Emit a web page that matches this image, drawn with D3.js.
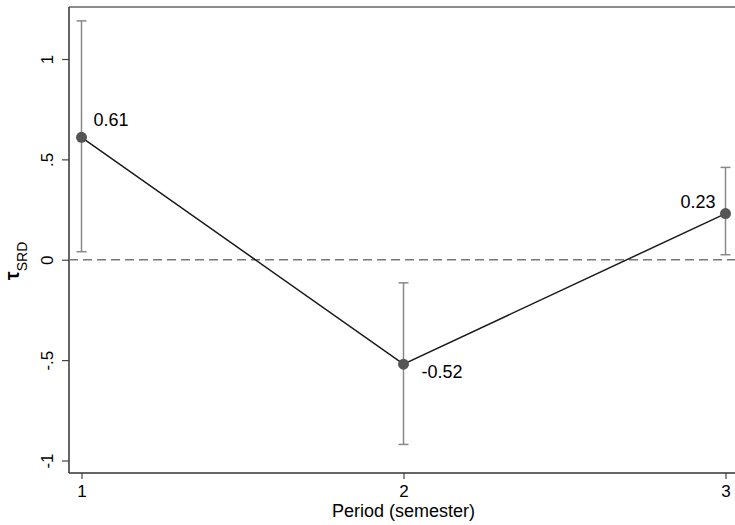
<!DOCTYPE html>
<html>
<head>
<meta charset="utf-8">
<script src="https://cdn.jsdelivr.net/npm/d3@7"></script>
<style>
  body { margin: 0; background: #fff; }
</style>
</head>
<body>
<div id="chart"></div>
<script>
// data
const periods = [1, 2, 3];
const estimates = [0.61, -0.52, 0.23];
const ciLower = [0.04, -0.92, 0.025];
const ciUpper = [1.19, -0.115, 0.46];
const pointLabels = ['0.61', '-0.52', '0.23'];
const yTicks = [-1, -0.5, 0, 0.5, 1];
const yTickLabels = ['-1', '-.5', '0', '.5', '1'];

// const
const width = 735;
const height = 525;
const plot = { left: 69, top: 7, right: 735, bottom: 473 };
const font = '"Liberation Sans", Arial, Helvetica, sans-serif';

// label offsets (Stata-like clock positions)
const labelPos = [
  { dx: 12, dy: -11, anchor: 'start' },
  { dx: 18, dy: 14, anchor: 'start' },
  { dx: -10, dy: -6, anchor: 'end' }
];

const data = periods.map((p, i) => ({
  period: p, est: estimates[i], lo: ciLower[i], hi: ciUpper[i], label: pointLabels[i]
}));

const svg = d3.select('#chart')
  .append('svg')
  .attr('width', width)
  .attr('height', height)
  .style('font-family', font);

const x = d3.scaleLinear().domain([1, 3]).range([81.5, 725.5]);
const y = d3.scaleLinear().domain([-1, 1]).range([460.5, 59]);

// frame top line
svg.append('line')
  .attr('x1', plot.left).attr('x2', plot.right)
  .attr('y1', plot.top).attr('y2', plot.top)
  .attr('stroke', '#666').attr('stroke-width', 1.5);

// y axis
const yAxis = svg.append('g')
  .attr('transform', `translate(${plot.left},0)`)
  .call(d3.axisLeft(y).tickValues(yTicks).tickSize(7).tickPadding(8)
    .tickFormat((d, i) => yTickLabels[i]))
  .call(g => g.select('.domain').remove());
yAxis.append('line')
  .attr('x1', 0).attr('x2', 0)
  .attr('y1', plot.top).attr('y2', plot.bottom)
  .attr('stroke', '#333').attr('stroke-width', 1.5);
yAxis.selectAll('.tick line').attr('stroke', '#444').attr('stroke-width', 1.2);
yAxis.selectAll('.tick text')
  .attr('x', null).attr('dy', null)
  .attr('transform', 'translate(-16,0) rotate(-90)')
  .attr('text-anchor', 'middle')
  .style('font-size', '17px')
  .attr('fill', '#000');

// x axis
const xAxis = svg.append('g')
  .attr('transform', `translate(0,${plot.bottom})`)
  .call(d3.axisBottom(x).tickValues(periods).tickSize(6).tickPadding(6)
    .tickFormat(d3.format('d')))
  .call(g => g.select('.domain').remove());
xAxis.append('line')
  .attr('x1', plot.left).attr('x2', plot.right)
  .attr('y1', 0).attr('y2', 0)
  .attr('stroke', '#333').attr('stroke-width', 1.5);
xAxis.selectAll('.tick line').attr('stroke', '#444').attr('stroke-width', 1.2);
xAxis.selectAll('.tick text')
  .style('font-size', '17px')
  .attr('fill', '#000');

// axis titles
svg.append('text')
  .attr('x', x(2))
  .attr('y', 517)
  .attr('text-anchor', 'middle')
  .style('font-size', '18px')
  .text('Period (semester)');

const yTitle = svg.append('text')
  .attr('transform', 'translate(19,261) rotate(-90)')
  .attr('text-anchor', 'middle');
yTitle.append('tspan').style('font-size', '20px').style('font-weight', 'bold').text('τ');
yTitle.append('tspan').style('font-size', '14px').attr('dy', 8).text('SRD');

// zero reference line
svg.append('line')
  .attr('x1', plot.left).attr('x2', plot.right)
  .attr('y1', y(0)).attr('y2', y(0))
  .attr('stroke', '#777').attr('stroke-width', 1.5)
  .attr('stroke-dasharray', '9,5');

// error bars
const bars = svg.append('g').attr('stroke', '#888').attr('stroke-width', 1.5);
bars.selectAll('line.ci')
  .data(data).join('line').attr('class', 'ci')
  .attr('x1', d => x(d.period)).attr('x2', d => x(d.period))
  .attr('y1', d => y(d.lo)).attr('y2', d => y(d.hi));
bars.selectAll('line.cap-hi')
  .data(data).join('line').attr('class', 'cap-hi')
  .attr('x1', d => x(d.period) - 5).attr('x2', d => x(d.period) + 5)
  .attr('y1', d => y(d.hi)).attr('y2', d => y(d.hi));
bars.selectAll('line.cap-lo')
  .data(data).join('line').attr('class', 'cap-lo')
  .attr('x1', d => x(d.period) - 5).attr('x2', d => x(d.period) + 5)
  .attr('y1', d => y(d.lo)).attr('y2', d => y(d.lo));

// connecting line
svg.append('path')
  .datum(data)
  .attr('fill', 'none')
  .attr('stroke', '#1a1a1a')
  .attr('stroke-width', 1.5)
  .attr('d', d3.line().x(d => x(d.period)).y(d => y(d.est)));

// markers
svg.selectAll('circle')
  .data(data).join('circle')
  .attr('cx', d => x(d.period))
  .attr('cy', d => y(d.est))
  .attr('r', 5.5)
  .attr('fill', '#555');

// point labels
svg.selectAll('text.pt')
  .data(data).join('text').attr('class', 'pt')
  .attr('x', (d, i) => x(d.period) + labelPos[i].dx)
  .attr('y', (d, i) => y(d.est) + labelPos[i].dy)
  .attr('text-anchor', (d, i) => labelPos[i].anchor)
  .style('font-size', '18px')
  .text(d => d.label);
</script>
</body>
</html>
